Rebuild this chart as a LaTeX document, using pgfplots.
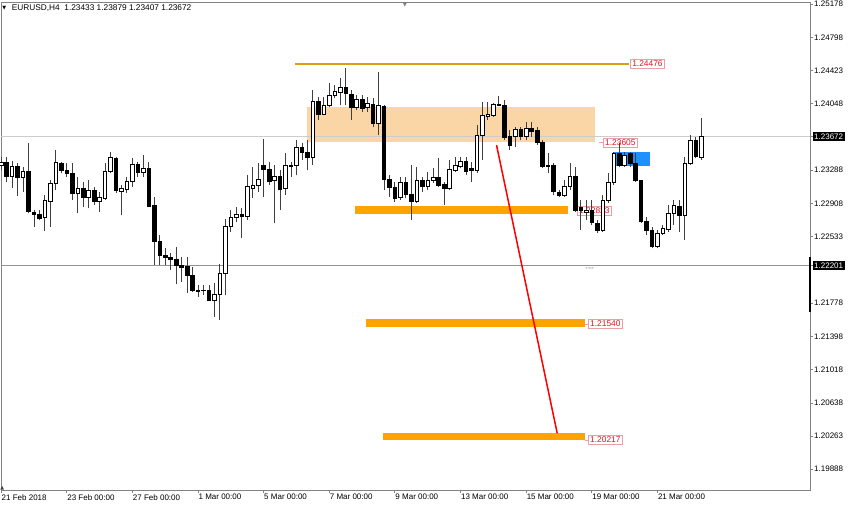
\documentclass[border=0pt]{standalone}
\usepackage{fontspec}
\setmainfont{Liberation Sans}
\newfontfamily\dejavu{DejaVu Sans}
\usepackage{pgfplots}
\pgfplotsset{compat=1.18}
\usepackage{pgfplotstable}
\definecolor{zonepeach}{RGB}{250,214,166}
\definecolor{levelgold}{RGB}{218,160,16}
\definecolor{barorange}{RGB}{255,163,0}
\definecolor{zoneblue}{RGB}{30,144,255}
\definecolor{lblred}{RGB}{225,20,35}
\definecolor{lblborder}{RGB}{232,160,165}
\definecolor{axgray}{RGB}{130,130,130}
\setlength{\fboxsep}{1.5pt}
\newcommand{\hlab}[1]{\hspace*{-1.5pt}\colorbox{black}{\textcolor{white}{#1}}}
\tikzset{lbl/.style={draw=lblborder, text=lblred, font=\fontsize{8.4}{10}\selectfont, inner xsep=2pt, inner ysep=1.5pt, line width=0.6pt, anchor=west}}

% up = 1 for a rising (white) candle, 0 for a falling (black) one
\pgfplotstableread{
i o h l c up
0 1.23347 1.23438 1.23290 1.23381 1
1 1.23373 1.23442 1.23157 1.23222 0
2 1.23222 1.23396 1.23082 1.23336 1
3 1.23336 1.23373 1.22995 1.23207 0
4 1.23207 1.23328 1.23044 1.23271 1
5 1.23271 1.23600 1.22797 1.22816 0
6 1.22812 1.22835 1.22645 1.22786 0
7 1.22786 1.22835 1.22721 1.22740 0
8 1.22747 1.23006 1.22597 1.22949 1
9 1.22938 1.23176 1.22645 1.23138 1
10 1.23138 1.23518 1.23063 1.23373 1
11 1.23366 1.23385 1.23252 1.23282 0
12 1.23290 1.23373 1.23214 1.23252 0
13 1.23252 1.23366 1.22949 1.23025 0
14 1.23025 1.23214 1.22797 1.23082 1
15 1.23082 1.23157 1.22873 1.22980 0
16 1.22980 1.23176 1.22854 1.23063 1
17 1.23063 1.23101 1.22892 1.22930 0
18 1.22930 1.23044 1.22816 1.22980 1
19 1.22968 1.23366 1.22949 1.23279 1
20 1.23279 1.23492 1.23252 1.23435 1
21 1.23423 1.23442 1.23025 1.23055 0
22 1.23044 1.23120 1.22778 1.23082 1
23 1.23071 1.23207 1.23025 1.23165 1
24 1.23157 1.23423 1.23101 1.23358 1
25 1.23358 1.23385 1.23214 1.23259 0
26 1.23259 1.23461 1.23214 1.23309 1
27 1.23309 1.23385 1.22866 1.22873 0
28 1.22892 1.22987 1.22209 1.22475 0
29 1.22475 1.22551 1.22209 1.22323 0
30 1.22315 1.22399 1.22209 1.22300 0
31 1.22297 1.22342 1.22152 1.22278 0
32 1.22274 1.22418 1.21993 1.22201 0
33 1.22206 1.22304 1.22019 1.22183 0
34 1.22190 1.22304 1.21887 1.22088 0
35 1.22088 1.22190 1.21906 1.21917 0
36 1.21925 1.21982 1.21849 1.21914 0
37 1.21917 1.21982 1.21868 1.21925 1
38 1.21917 1.21982 1.21805 1.21811 0
39 1.21811 1.22001 1.21622 1.21879 1
40 1.21879 1.22220 1.21584 1.22121 1
41 1.22121 1.22736 1.21868 1.22645 1
42 1.22645 1.22835 1.22589 1.22747 1
43 1.22747 1.22873 1.22702 1.22786 1
44 1.22786 1.22854 1.22513 1.22759 0
45 1.22759 1.23233 1.22721 1.23101 1
46 1.23086 1.23324 1.22972 1.23120 1
47 1.23120 1.23370 1.23040 1.23188 1
48 1.23347 1.23643 1.22983 1.23301 0
49 1.23301 1.23381 1.23120 1.23165 0
50 1.23176 1.23347 1.22687 1.23222 1
51 1.23222 1.23290 1.22835 1.23074 0
52 1.23086 1.23484 1.23006 1.23347 1
53 1.23336 1.23381 1.23211 1.23347 1
54 1.23347 1.23631 1.23233 1.23552 1
55 1.23552 1.23597 1.23404 1.23495 0
56 1.23487 1.23631 1.23290 1.23438 0
57 1.23438 1.24200 1.23347 1.24067 1
58 1.24067 1.24124 1.23859 1.23927 0
59 1.23927 1.24124 1.23916 1.24029 1
60 1.24029 1.24283 1.24010 1.24135 1
61 1.24143 1.24257 1.24106 1.24188 1
62 1.24177 1.24337 1.24029 1.24234 1
63 1.24234 1.24450 1.24029 1.24166 0
64 1.24155 1.24200 1.23859 1.24006 0
65 1.24006 1.24143 1.23973 1.24097 1
66 1.24097 1.24143 1.23954 1.23995 0
67 1.24006 1.24124 1.23954 1.24052 1
68 1.24041 1.24109 1.23779 1.23825 0
69 1.23825 1.24408 1.23688 1.24029 1
70 1.24018 1.24029 1.23063 1.23188 0
71 1.23188 1.23233 1.22983 1.23097 0
72 1.23097 1.23157 1.22930 1.22972 0
73 1.22983 1.23214 1.22949 1.23154 1
74 1.23154 1.23214 1.22968 1.23017 0
75 1.23017 1.23347 1.22721 1.22930 0
76 1.22930 1.23328 1.22915 1.23176 1
77 1.23176 1.23214 1.23044 1.23108 0
78 1.23108 1.23271 1.23063 1.23168 1
79 1.23168 1.23309 1.23138 1.23203 1
80 1.23203 1.23427 1.23101 1.23120 0
81 1.23131 1.23157 1.22892 1.23086 0
82 1.23086 1.23404 1.23063 1.23301 1
83 1.23290 1.23442 1.23271 1.23347 1
84 1.23336 1.23442 1.23309 1.23393 1
85 1.23393 1.23442 1.23233 1.23271 0
86 1.23313 1.23385 1.23157 1.23290 0
87 1.23290 1.23802 1.23256 1.23688 1
88 1.23688 1.24067 1.23404 1.23916 1
89 1.23904 1.24067 1.23859 1.23927 1
90 1.23916 1.24056 1.23897 1.24041 1
91 1.24029 1.24132 1.24018 1.24041 1
92 1.24029 1.24086 1.23631 1.23665 0
93 1.23669 1.23745 1.23518 1.23575 0
94 1.23669 1.23783 1.23556 1.23757 1
95 1.23757 1.23783 1.23631 1.23669 0
96 1.23669 1.23840 1.23631 1.23768 1
97 1.23768 1.23840 1.23669 1.23734 0
98 1.23737 1.23783 1.23575 1.23600 0
99 1.23600 1.23631 1.23309 1.23336 0
100 1.23347 1.23480 1.23252 1.23336 0
101 1.23347 1.23366 1.23006 1.23044 0
102 1.23033 1.23063 1.22987 1.23006 0
103 1.23006 1.23176 1.22987 1.23101 1
104 1.23101 1.23366 1.23063 1.23222 1
105 1.23222 1.23328 1.22816 1.22835 0
106 1.22869 1.22949 1.22608 1.22835 0
107 1.22812 1.22949 1.22721 1.22835 1
108 1.22835 1.22949 1.22665 1.22699 0
109 1.22687 1.22721 1.22573 1.22608 0
110 1.22608 1.23006 1.22585 1.22949 1
111 1.22949 1.23256 1.22915 1.23154 1
112 1.23154 1.23499 1.23120 1.23484 1
113 1.23484 1.23597 1.23328 1.23347 0
114 1.23347 1.23499 1.23328 1.23461 1
115 1.23484 1.23499 1.23328 1.23370 0
116 1.23370 1.23484 1.23157 1.23176 0
117 1.23168 1.23176 1.22687 1.22702 0
118 1.22702 1.22759 1.22551 1.22608 0
119 1.22608 1.22645 1.22399 1.22426 0
120 1.22426 1.22608 1.22399 1.22573 1
121 1.22573 1.22665 1.22551 1.22630 1
122 1.22619 1.22892 1.22589 1.22801 1
123 1.22801 1.22949 1.22665 1.22892 1
124 1.22880 1.22949 1.22589 1.22778 0
125 1.22778 1.23442 1.22494 1.23370 1
126 1.23370 1.23688 1.23347 1.23631 1
127 1.23631 1.23669 1.23423 1.23442 0
128 1.23433 1.23879 1.23407 1.23672 1
}\candles

\begin{document}
\begin{tikzpicture}
\useasboundingbox (-1pt,-14pt) rectangle (849pt,490pt);
\begin{axis}[
  scale only axis, width=809pt, height=488pt,
  xmin=0, xmax=147.92, ymin=1.19650, ymax=1.25201,
  axis line style={axgray, line width=0.8pt},
  xtick={0,12,...,120},
  xticklabels={21 Feb 2018,23 Feb 00:00,27 Feb 00:00,1 Mar 00:00,5 Mar 00:00,7 Mar 00:00,9 Mar 00:00,13 Mar 00:00,15 Mar 00:00,19 Mar 00:00,21 Mar 00:00},
  ytick={1.19888,1.20263,1.20638,1.21018,1.21398,1.21778,1.22201,1.22533,1.22908,1.23288,1.23672,1.24048,1.24423,1.24798,1.25178},
  yticklabels={1.19888,1.20263,1.20638,1.21018,1.21398,1.21778,\hlab{1.22201},1.22533,1.22908,1.23288,\hlab{1.23672},1.24048,1.24423,1.24798,1.25178},
  xtick pos=left, ytick pos=right, yticklabel pos=right,
  tick align=outside, major tick length=3pt,
  tick style={axgray, line width=0.6pt},
  ticklabel style={font=\fontsize{8}{9.6}\selectfont},
  xticklabel style={anchor=north west, inner sep=1pt, xshift=-0.5pt},
  yticklabel style={anchor=west, inner sep=0pt, xshift=1pt},
  clip=false,
  /pgf/number format/assume math mode=true,
]
% supply zone
\addplot[fill=zonepeach, draw=none] coordinates {(55.9,1.24001) (108.6,1.24001) (108.6,1.23612) (55.9,1.23612)} -- cycle;
% horizontal price lines
\addplot[gray!40, line width=0.8pt] coordinates {(0,1.23672) (147.92,1.23672)};
\addplot[gray!85, line width=0.8pt] coordinates {(0,1.22201) (147.92,1.22201)};
% gold level
\addplot[draw=levelgold, line width=1.8pt] coordinates {(53.7,1.24500) (114.8,1.24500)};
% orange levels
\addplot[draw=barorange, line width=8pt] coordinates {(64.7,1.22835) (103.7,1.22835)};
\addplot[draw=barorange, line width=8pt] coordinates {(66.7,1.21546) (106.7,1.21546)};
\addplot[draw=barorange, line width=7pt] coordinates {(69.8,1.20253) (106.7,1.20253)};
% blue box
\addplot[fill=zoneblue, draw=none] coordinates {(111.9,1.23495) (118.6,1.23495) (118.6,1.23336) (111.9,1.23336)} -- cycle;
% candles
\addplot[scatter, only marks, mark=*, mark size=0pt, mark options={draw=none, fill=none}, point meta=y,
  visualization depends on={\thisrow{h}-\thisrow{l} \as \hl},
  visualization depends on={min(\thisrow{o},\thisrow{c})-\thisrow{l} \as \bl},
  visualization depends on={max(\thisrow{o},\thisrow{c})-\thisrow{l} \as \bt},
  visualization depends on={\thisrow{up} \as \upc},
  scatter/@pre marker code/.code={%
    \scope
    \ifdim\upc pt>0.5pt \def\bodyfill{white}\else\def\bodyfill{black}\fi
    \draw[black!75, line width=0.6pt] (0pt,0pt) -- (axis direction cs:0,\hl);
    \coordinate (cA) at (axis direction cs:0,\bl);
    \coordinate (cB) at (axis direction cs:0,\bt);
    \filldraw[fill=\bodyfill, draw=black, line width=0.5pt] ([xshift=-1.8pt]cA) rectangle ([xshift=1.8pt]cB);
  },
  scatter/@post marker code/.code={\endscope},
] table[x=i, y=l] {\candles};
% red projection line
\addplot[draw=red, line width=1.5pt] coordinates {(90.6,1.23574) (101.7,1.20295)};
% right-edge marker
\addplot[draw=black, line width=1.5pt] coordinates {(147.92,1.22300) (147.92,1.21675)};
% label leaders
\addplot[draw=lblborder, line width=0.6pt] coordinates {(109.3,1.23603) (110.05,1.23603)};
\addplot[draw=lblborder, line width=0.6pt] coordinates {(106.7,1.21538) (107.3,1.21538)};
\addplot[draw=lblborder, line width=0.6pt] coordinates {(106.7,1.20219) (107.3,1.20219)};
% labels
\node[lbl] at (axis cs:115.0,1.24500) {1.24476};
\node[lbl] at (axis cs:110.05,1.23603) {1.23605};
\node[lbl] at (axis cs:105.3,1.22829) {1.22823};
\node[lbl] at (axis cs:107.3,1.21538) {1.21540};
\node[lbl] at (axis cs:107.3,1.20219) {1.20217};
% title
\node[anchor=west, font=\fontsize{8.3}{10}\selectfont, inner sep=0pt] at (axis cs:1.95,1.25127) {EURUSD,H4\ \ 1.23433 1.23879 1.23407 1.23672};
\node[font=\dejavu\fontsize{5}{5}\selectfont, inner sep=0pt] at (axis cs:0.6,1.25130) {▼};
\node[font=\dejavu\fontsize{6}{6}\selectfont, text=gray, anchor=north, inner sep=0pt] at (axis cs:73.85,1.25201) {▼};
\node[font=\dejavu\fontsize{5}{5}\selectfont, text=darkgray, anchor=south, inner sep=0pt] at (axis cs:0.25,1.19650) {▲};
\node[font=\fontsize{3}{3}\selectfont, text=gray, inner sep=0pt] at (axis cs:107.7,1.22170) {276.0°};
\end{axis}
\end{tikzpicture}
\end{document}
